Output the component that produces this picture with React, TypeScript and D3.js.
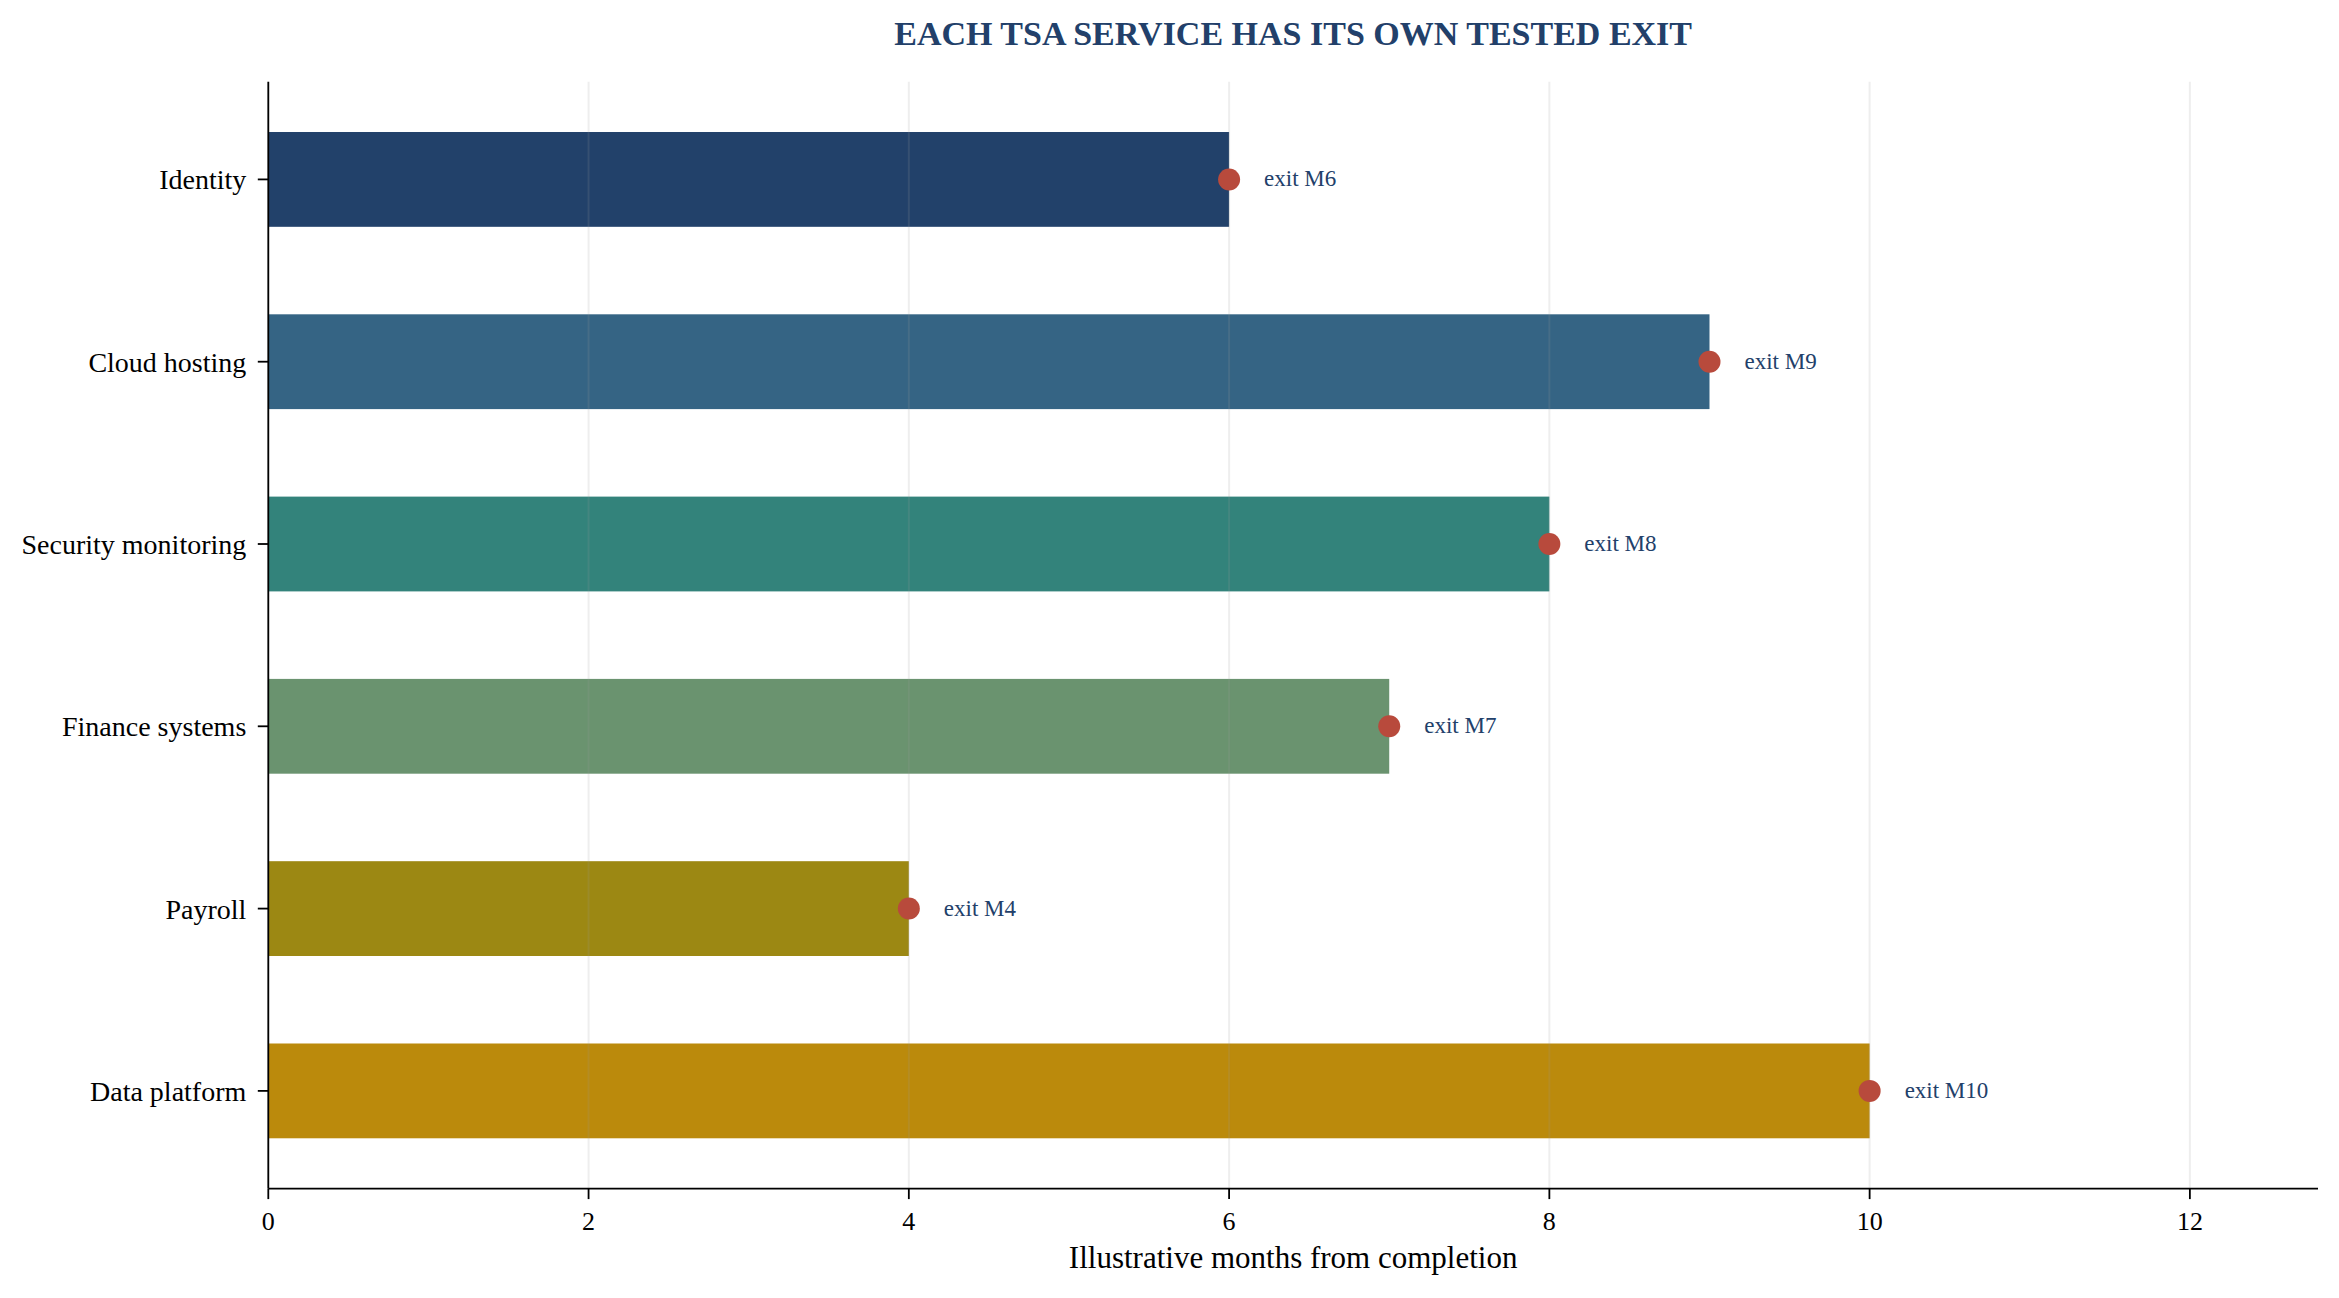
import * as React from 'react';
import {useEffect, useRef} from 'react';
import * as d3 from 'd3';

// chart data
const services = ['Identity', 'Cloud hosting', 'Security monitoring', 'Finance systems', 'Payroll', 'Data platform'];
const exitMonths = [6, 9, 8, 7, 4, 10];
const xTicks = [0, 2, 4, 6, 8, 10, 12];
const title = 'EACH TSA SERVICE HAS ITS OWN TESTED EXIT';
const xLabel = 'Illustrative months from completion';

// palette
const barColors = ['#22416a', '#356484', '#33837b', '#6a936f', '#9c8813', '#bb8a0c'];
const dotColor = '#b84a3c';
const navy = '#22406a';

const W = 2339;
const H = 1298;
const FONT = '"Liberation Serif", "Times New Roman", serif';

const App = () => {
    const chartRef = useRef(null);

    useEffect(() => {
        const svg = d3.select(chartRef.current);
        svg.selectAll('*').remove();

        const left = 268.3, right = 2318, top = 81.7, bottom = 1188.6;
        const barH = 0.52;
        const n = services.length;
        const pad = (n - 1 + barH) * 0.05;

        const xScale = d3.scaleLinear().domain([0, 12.8]).range([left, right]);
        const yScale = d3.scaleLinear()
            .domain([-barH / 2 - pad, n - 1 + barH / 2 + pad])
            .range([top, bottom]);
        const bh = yScale(barH) - yScale(0);

        svg.append('rect').attr('width', W).attr('height', H).attr('fill', '#ffffff');

        // bars
        svg.append('g')
            .selectAll('rect')
            .data(services)
            .enter()
            .append('rect')
            .attr('x', xScale(0))
            .attr('y', (d, i) => yScale(i) - bh / 2)
            .attr('width', (d, i) => xScale(exitMonths[i]) - xScale(0))
            .attr('height', bh)
            .attr('fill', (d, i) => barColors[i]);

        // grid on top, faint
        svg.append('g')
            .selectAll('line')
            .data(xTicks)
            .enter()
            .append('line')
            .attr('x1', d => xScale(d))
            .attr('x2', d => xScale(d))
            .attr('y1', top)
            .attr('y2', bottom)
            .attr('stroke', '#999999')
            .attr('stroke-opacity', 0.17)
            .attr('stroke-width', 2);

        // exit dots + labels
        svg.append('g')
            .selectAll('circle')
            .data(services)
            .enter()
            .append('circle')
            .attr('cx', (d, i) => xScale(exitMonths[i]))
            .attr('cy', (d, i) => yScale(i))
            .attr('r', 11)
            .attr('fill', dotColor);

        svg.append('g')
            .selectAll('text')
            .data(services)
            .enter()
            .append('text')
            .attr('x', (d, i) => xScale(exitMonths[i]) + 35)
            .attr('y', (d, i) => yScale(i) + 7)
            .style('font-family', FONT)
            .style('font-size', '23px')
            .attr('fill', navy)
            .text((d, i) => `exit M${exitMonths[i]}`);

        // y axis
        const yAxis = svg.append('g');
        yAxis.append('line')
            .attr('x1', left).attr('x2', left)
            .attr('y1', top).attr('y2', bottom)
            .attr('stroke', '#000').attr('stroke-width', 1.8);
        services.forEach((s, i) => {
            yAxis.append('line')
                .attr('x1', left - 10.5).attr('x2', left)
                .attr('y1', yScale(i)).attr('y2', yScale(i))
                .attr('stroke', '#000').attr('stroke-width', 1.8);
            yAxis.append('text')
                .attr('x', left - 22)
                .attr('y', yScale(i) + 10)
                .style('text-anchor', 'end')
                .style('font-family', FONT)
                .style('font-size', '28px')
                .attr('fill', '#000')
                .text(s);
        });

        // x axis
        const xAxis = svg.append('g');
        xAxis.append('line')
            .attr('x1', left).attr('x2', right)
            .attr('y1', bottom).attr('y2', bottom)
            .attr('stroke', '#000').attr('stroke-width', 1.8);
        xTicks.forEach(t => {
            xAxis.append('line')
                .attr('x1', xScale(t)).attr('x2', xScale(t))
                .attr('y1', bottom).attr('y2', bottom + 10.5)
                .attr('stroke', '#000').attr('stroke-width', 1.8);
            xAxis.append('text')
                .attr('x', xScale(t))
                .attr('y', 1229.5)
                .style('text-anchor', 'middle')
                .style('font-family', FONT)
                .style('font-size', '26px')
                .attr('fill', '#000')
                .text(t);
        });

        svg.append('text')
            .attr('x', (left + right) / 2)
            .attr('y', 1268)
            .style('text-anchor', 'middle')
            .style('font-family', FONT)
            .style('font-size', '31px')
            .attr('fill', '#000')
            .text(xLabel);

        svg.append('text')
            .attr('x', (left + right) / 2)
            .attr('y', 45)
            .style('text-anchor', 'middle')
            .style('font-family', FONT)
            .style('font-size', '34px')
            .style('font-weight', 'bold')
            .attr('fill', navy)
            .text(title);
    }, []);

    return (
        <div style={{position: 'absolute', left: 0, top: 0}}>
            <svg ref={chartRef} width={W} height={H} style={{display: 'block'}}></svg>
        </div>
    );
};

export default App;
